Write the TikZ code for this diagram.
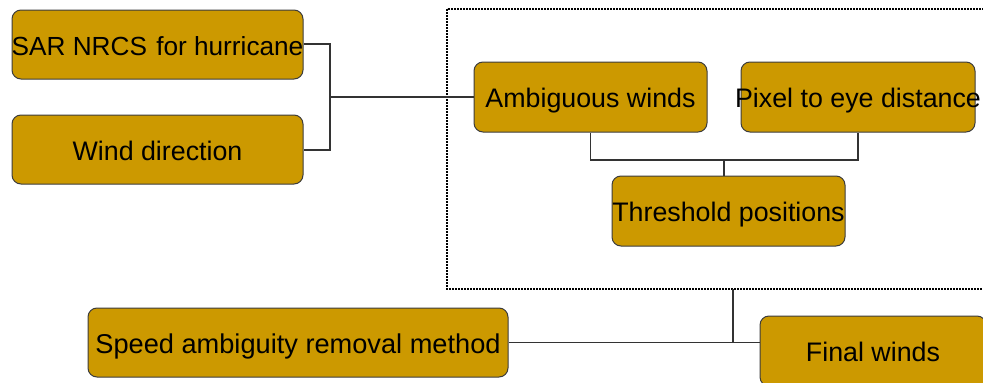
\documentclass[tikz,border=0pt]{standalone}
\usepackage{fontspec}
\setmainfont{Liberation Sans}
\definecolor{boxfill}{HTML}{CC9900}
\definecolor{boxline}{HTML}{3C3C3C}
\definecolor{conn}{HTML}{333333}
\newcommand\boxlbl[1]{\makebox[0pt]{\smash{\raisebox{-10.5pt}{#1}}}}
\begin{document}
\begin{tikzpicture}[x=1pt,y=-1pt,
  box/.style={draw=boxline, line width=1pt, fill=boxfill, rounded corners=9pt,
    inner sep=0pt, font=\fontsize{26.8}{30}\selectfont, text=black},
  wire/.style={draw=conn, line width=1.2pt},
  frame/.style={draw=black, dash pattern=on 1.6pt off 1.4pt, line width=1.6pt}]
\useasboundingbox (0,0) rectangle (983,383);
\draw[frame] (447,9) rectangle (995,289);
\node[box, minimum width=291pt, minimum height=69pt] (sar) at (157.5,44.5) {\boxlbl{\fontsize{26.2}{30}\selectfont SAR NRCS\kern2pt\ for hurricane}};
\node[box, minimum width=291pt, minimum height=69pt] (wd) at (157.5,149.5) {\boxlbl{Wind direction}};
\node[box, minimum width=233pt, minimum height=70pt] (amb) at (590.5,97) {\boxlbl{Ambiguous winds}};
\node[box, minimum width=234pt, minimum height=70pt] (pix) at (858,97) {\boxlbl{Pixel to eye distance}};
\node[box, minimum width=233pt, minimum height=70pt] (thr) at (728.5,211) {\boxlbl{Threshold positions}};
\node[box, minimum width=420pt, minimum height=69pt] (spd) at (298,342.5) {\boxlbl{\fontsize{27.2}{30}\selectfont Speed ambiguity removal method}};
\node[box, minimum width=226pt, minimum height=70pt] (fin) at (873,351) {\boxlbl{Final winds}};
\coordinate (j1) at (330,97);
\coordinate (j2) at (724,160);
\coordinate (j3) at (733,342);
\coordinate (fb) at (733,289);
\draw[wire] (sar.east |- 0,44) -| (j1) |- (wd.east |- 0,150);
\draw[wire] (j1) -- (amb.west);
\draw[wire] (amb.south) |- (j2) -| (pix.south);
\draw[wire] (j2) -- (j2 |- thr.north);
\draw[wire] (fb) -- (j3);
\draw[wire] (spd.east) -- (spd.east -| fin.west);
\end{tikzpicture}
\end{document}
